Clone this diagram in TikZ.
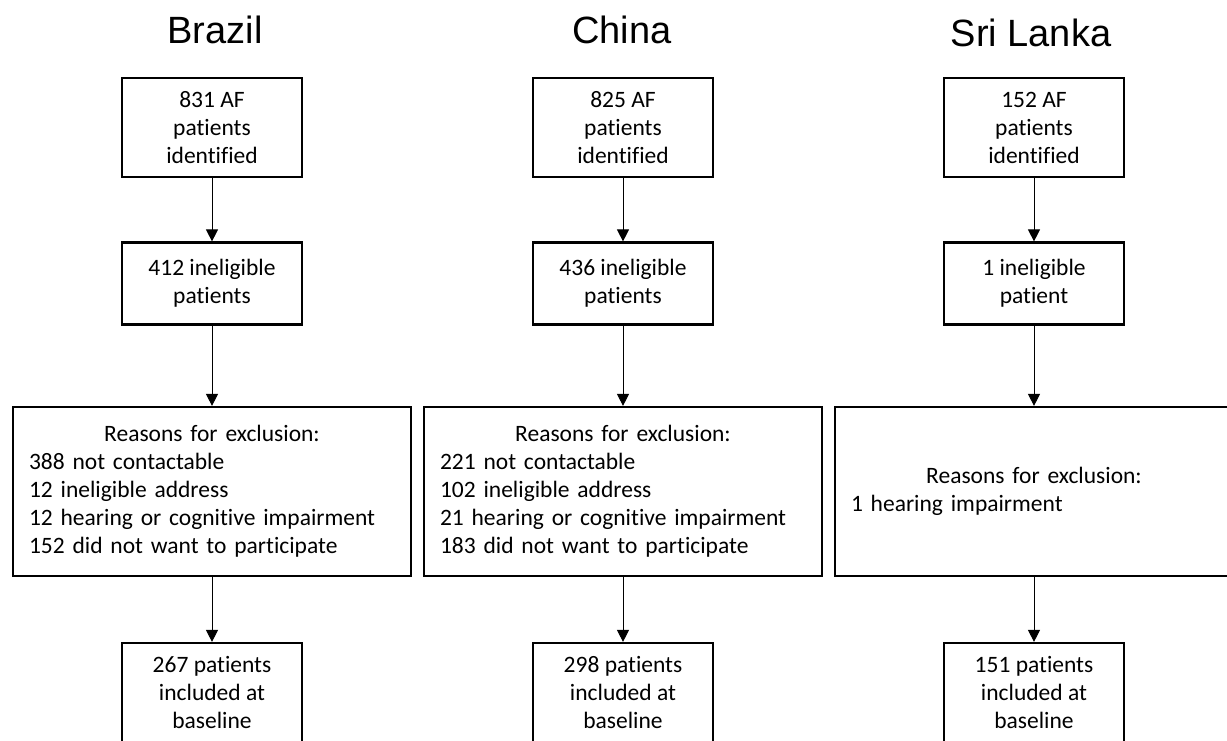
\documentclass[tikz,border=0pt]{standalone}
\usepackage{fontspec}
\setmainfont{Carlito}[Ligatures=NoCommon]
\newfontfamily\titlefont{Liberation Sans}
\usepackage{tikz}
\usetikzlibrary{positioning, shapes.geometric, arrows.meta, calc}

\begin{document}
\begin{tikzpicture}[x=1pt,y=-1pt,
 box_node/.style={draw,line width=2.2pt,minimum width=180pt,minimum height=99pt,align=center,inner sep=0pt,font=\fontsize{23.5}{28}\selectfont},
 small_node/.style={box_node,minimum height=82pt},
 wide_node/.style={draw,line width=2.2pt,minimum width=398pt,minimum height=169pt,text width=366pt,inner xsep=16pt,inner ysep=0pt,align=left,font=\fontsize{23.5}{28}\selectfont},
 title_node/.style={anchor=base,font=\titlefont\fontsize{38}{40}\selectfont}]

\useasboundingbox (0,0) rectangle (1227,740);
\clip (0,0) rectangle (1227,740);

\node[title_node] (tb) at (215,43) {Brazil};
\node[title_node] (tc) at (622,43) {China};
\node[title_node] (ts) at (1031,46) {Sri Lanka};

\node[box_node] (b1) at (212,127.5) {831 AF\\patients\\identified};
\node[box_node] (c1) at (623,127.5) {825 AF\\patients\\identified};
\node[box_node] (s1) at (1034,127.5) {152 AF\\patients\\identified};

\node[small_node] (b2) at (212,283.5) {412 ineligible\\patients};
\node[small_node] (c2) at (623,283.5) {436 ineligible\\patients};
\node[small_node] (s2) at (1034,283.5) {1 ineligible\\patient};

\node[wide_node] (b3) at (212,491.5) {\makebox[\linewidth]{Reasons for exclusion:}\\388 not contactable\\12 ineligible address\\12 hearing or cognitive impairment\\152 did not want to participate};
\node[wide_node] (c3) at (623,491.5) {\makebox[\linewidth]{Reasons for exclusion:}\\221 not contactable\\102 ineligible address\\21 hearing or cognitive impairment\\183 did not want to participate};
\node[wide_node] (s3) at (1034,491.5) {\makebox[\linewidth]{Reasons for exclusion:}\\1 hearing impairment};

\node[box_node] (b4) at (212,692.5) {267 patients\\included at\\baseline};
\node[box_node] (c4) at (623,692.5) {298 patients\\included at\\baseline};
\node[box_node] (s4) at (1034,692.5) {151 patients\\included at\\baseline};

\path[draw, line width=1pt]
\foreach \i/\j in {b1/b2,b2/b3,b3/b4,c1/c2,c2/c3,c3/c4,s1/s2,s2/s3,s3/s4}{(\i) edge[-{Triangle[width=12pt,length=12pt]}] (\j) };

\end{tikzpicture}
\end{document}
